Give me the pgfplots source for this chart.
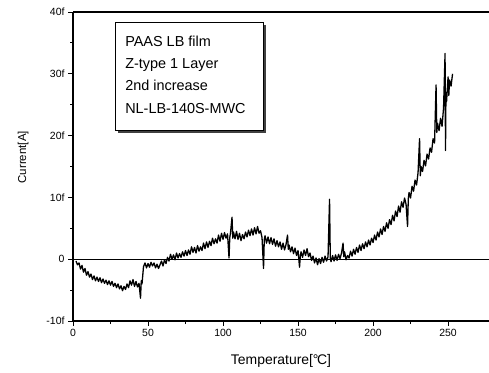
\documentclass[border=0pt]{standalone}
\usepackage{fontspec}
\setmainfont{Liberation Sans}
\usepackage{pgfplots}
\pgfplotsset{compat=1.18}
\usetikzlibrary{shadows}
\begin{document}
\begin{tikzpicture}[x=1bp,y=1bp]
\path[use as bounding box] (0,0) rectangle (489,372);
\begin{axis}[at={(73bp,51bp)}, anchor=south west, scale only axis,
  width=416bp, height=309bp,
  xmin=0, xmax=277.3, ymin=-10, ymax=40,
  axis x line*=box, axis y line*=left,
  axis line style={-, line width=1.1pt},
  every outer x axis line/.append style={-},
  every outer y axis line/.append style={-},
  xtick={0,50,100,150,200,250}, xticklabels={0,50,100,150,200,250},
  ytick={-10,0,10,20,30,40}, yticklabels={-10f,0,10f,20f,30f,40f},
  minor x tick num=1, minor y tick num=1,
  tick align=outside, xtick pos=left, ytick pos=left,
  major tick length=5bp, minor tick length=3bp,
  tick style={black, line width=0.9pt},
  ticklabel style={font=\fontsize{10.5}{12}\selectfont},
  xlabel={Temperature[\kern-0.3pt°\kern-1.2pt C]},
  ylabel={Current[A]},
  xlabel style={at={(axis description cs:0.5,-0.129)}, anchor=center, font=\fontsize{14}{16}\selectfont},
  ylabel style={at={(axis description cs:-0.12,0.53)}, anchor=center, font=\fontsize{11.5}{13}\selectfont},
]
\addplot[black, line width=0.9pt, forget plot] coordinates {(0,0) (277.3,0)};
\draw[fill=white, line width=0.8pt, drop shadow={shadow xshift=2.5bp, shadow yshift=-2.5bp, opacity=1, fill=black!75}] (axis cs:28,38.3) rectangle (axis cs:126.7,20.9);
\node[anchor=base west, font=\fontsize{14.5}{16}\selectfont, inner sep=0] at (axis cs:34.7,34.47) {PAAS LB film};
\node[anchor=base west, font=\fontsize{14.5}{16}\selectfont, inner sep=0] at (axis cs:34.7,30.86) {Z-type 1 Layer};
\node[anchor=base west, font=\fontsize{14.5}{16}\selectfont, inner sep=0] at (axis cs:34.7,27.25) {2nd increase};
\node[anchor=base west, font=\fontsize{14.5}{16}\selectfont, inner sep=0] at (axis cs:34.7,23.64) {NL-LB-140S-MWC};
\addplot[black, line width=1.3pt, line join=round] coordinates {
(2,-0.3)(3,-0.9)(4,-0.6)(5,-1.6)(6,-1.0)(7,-2.1)(8,-1.5)(9,-2.6)(10,-2.0)(11,-2.9)
(12,-2.4)(13,-3.3)(14,-2.7)(15,-3.5)(16,-2.9)(17,-3.6)(18,-3.0)(19,-3.8)(20,-3.2)
(21,-3.9)(22,-3.4)(23,-4.1)(24,-3.5)(25,-4.2)(26,-3.6)(27,-4.4)(28,-3.9)(29,-4.6)
(30,-4.0)(31,-4.8)(32,-4.3)(33,-5.1)(34,-4.4)(35,-4.9)(36,-4.0)(37,-4.6)(38,-3.5)
(39,-4.2)(40,-3.3)(41,-4.4)(42,-3.6)(43,-4.5)(44,-3.9)(45,-6.3)(45.5,-3.5)(46,-4.0)
(47,-1.2)(48,-0.6)(49,-1.4)(50,-0.7)(51,-1.3)(52,-0.5)(53,-1.1)(54,-0.6)(55,-1.4)
(56,-0.8)(57,-1.5)(58,-0.9)(59,-0.3)(60,-1.1)(61,-0.1)(62,-0.7)(63,0.3)(64,-0.3)
(65,0.8)(66,0.0)(67,0.7)(68,-0.1)(69,1.0)(70,0.2)(71,0.9)(72,0.3)(73,1.2)(74,0.5)
(75,1.4)(76,0.6)(77,1.5)(78,0.8)(79,2.0)(80,1.1)(81,1.9)(82,1.0)(83,2.2)(84,1.3)
(85,2.0)(86,1.4)(87,2.6)(88,1.7)(89,2.8)(90,1.9)(91,2.9)(92,2.2)(93,3.4)(94,2.5)
(95,3.3)(96,2.6)(97,3.9)(98,2.9)(99,4.2)(100,3.2)(101,4.3)(102,3.4)(103,4.1)(104,0.2)
(104.5,3.5)(105,4.3)(106,6.8)(106.5,3.4)(107,4.4)(108,3.3)(109,4.5)(110,3.2)(111,4.2)
(112,3.0)(113,4.0)(114,3.3)(115,4.4)(116,3.6)(117,4.7)(118,3.8)(119,4.9)(120,3.9)
(121,5.1)(122,4.1)(123,5.3)(124,4.2)(125,4.6)(126,3.5)(127,-1.5)(127.5,3.2)(128,3.8)
(129,2.6)(130,3.6)(131,2.5)(132,3.5)(133,2.4)(134,3.3)(135,2.1)(136,3.0)(137,2.0)
(138,2.8)(139,1.6)(140,2.6)(141,1.5)(142,2.4)(143,3.9)(143.5,1.6)(144,2.3)(145,1.2)
(146,2.0)(147,0.9)(148,1.8)(149,0.6)(150,1.4)(151,-1.3)(151.5,0.5)(152,1.2)(153,0.3)
(154,1.5)(155,0.6)(156,1.7)(157,0.4)(158,1.0)(159,-0.2)(160,0.5)(161,-0.6)(162,0.2)
(163,-0.9)(164,0.1)(165,-0.7)(166,0.3)(167,-0.5)(168,0.5)(169,-0.3)(170,0.4)(171,9.7)
(171.5,0.2)(172,-0.4)(173,0.6)(174,-0.3)(175,0.7)(176,-0.2)(177,0.8)(178,0.1)(179,1.0)
(180,2.6)(180.5,0.4)(181,1.2)(182,-0.1)(183,0.6)(184,0.2)(185,1.3)(186,0.5)(187,1.6)
(188,0.8)(189,1.9)(190,1.1)(191,2.3)(192,1.4)(193,2.5)(194,1.7)(195,2.8)(196,2.0)
(197,3.1)(198,2.3)(199,3.4)(200,2.7)(201,3.9)(202,3.1)(203,4.4)(204,3.6)(205,4.9)
(206,4.0)(207,5.3)(208,4.5)(209,5.9)(210,5.0)(211,6.4)(212,5.6)(213,7.1)(214,6.2)
(215,7.8)(216,6.9)(217,8.6)(218,7.6)(219,9.3)(220,8.4)(221,9.9)(222,8.9)(223,5.3)
(223.5,9.8)(224,10.8)(225,9.9)(226,11.8)(227,11.0)(228,12.8)(229,12.0)(230,14.0)
(231,19.5)(231.5,13.5)(232,15.0)(233,14.2)(234,16.0)(235,15.1)(236,17.0)(237,16.2)
(238,18.0)(239,17.3)(240,19.5)(241,18.8)(242,28.2)(242.5,20.5)(243,22.0)(244,20.8)
(245,22.8)(246,21.5)(247,24.5)(248,33.3)(248.3,17.6)(248.6,27.0)(249,25.5)(250,29.5)
(250.5,26.5)(251,29.0)(252,28.0)(253,30.0)
};
\end{axis}
\end{tikzpicture}
\end{document}
